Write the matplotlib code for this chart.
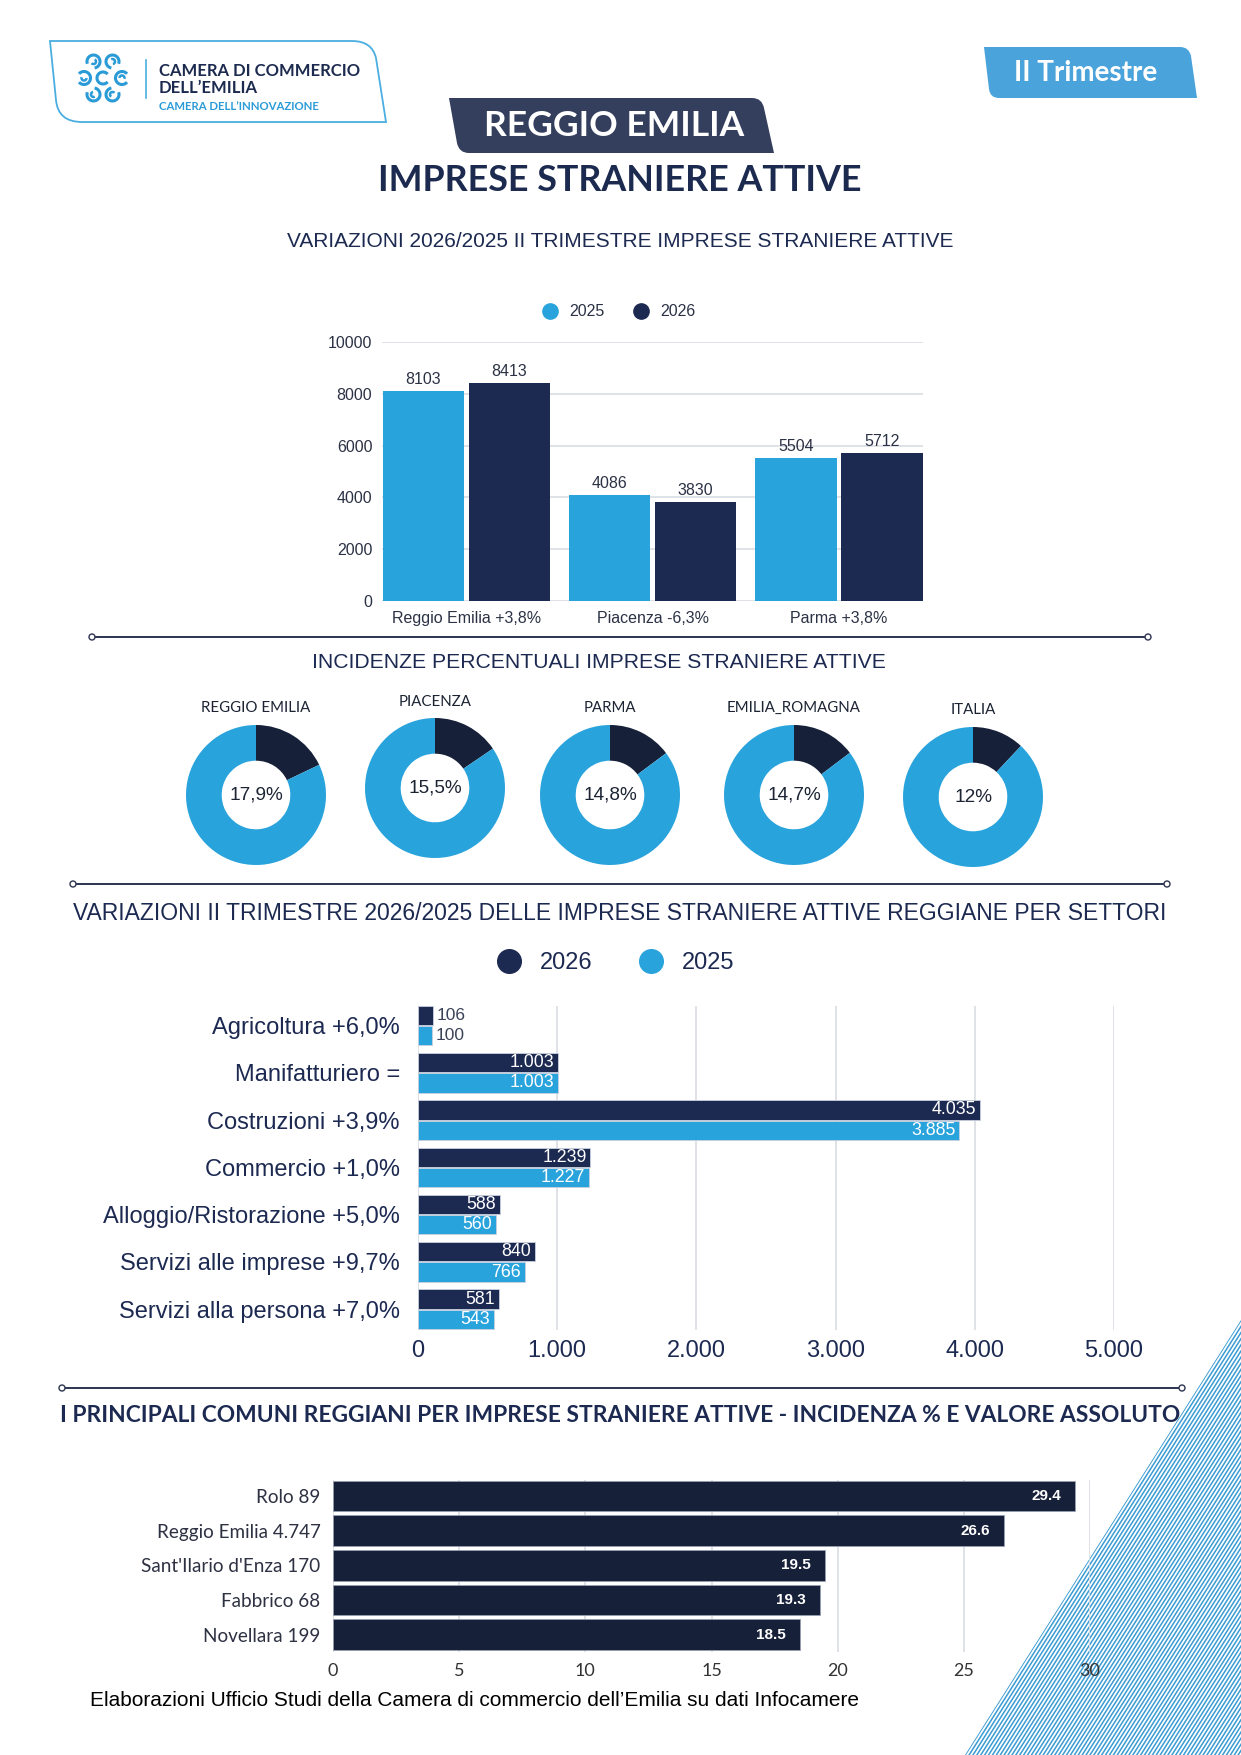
import numpy as np
import matplotlib
matplotlib.use("Agg")
import matplotlib.pyplot as plt
from matplotlib.patches import Polygon, Circle, Arc, PathPatch
from matplotlib.path import Path
from matplotlib.collections import LineCollection
from matplotlib.lines import Line2D

W, H = 1241, 1755
NAVY = "#1c2951"
DARK = "#172039"
BLUE = "#29a3dc"
TEXT = "#2b3245"
GRID = "#d9dde3"
SANS = "Liberation Sans"
LATO = "Lato"

# --- variazioni per provincia
prov_names = ["Reggio Emilia", "Piacenza", "Parma"]
prov_var = ["+3,8%", "-6,3%", "+3,8%"]
prov_2025 = [8103, 4086, 5504]
prov_2026 = [8413, 3830, 5712]

# --- incidenze percentuali
inc_names = ["REGGIO EMILIA", "PIACENZA", "PARMA", "EMILIA_ROMAGNA", "ITALIA"]
inc_values = [17.9, 15.5, 14.8, 14.7, 12.0]
inc_labels = ["17,9%", "15,5%", "14,8%", "14,7%", "12%"]

# --- settori
sectors = ["Agricoltura", "Manifatturiero", "Costruzioni", "Commercio",
           "Alloggio/Ristorazione", "Servizi alle imprese", "Servizi alla persona"]
sector_var = ["+6,0%", "=", "+3,9%", "+1,0%", "+5,0%", "+9,7%", "+7,0%"]
sect_2026 = [106, 1003, 4035, 1239, 588, 840, 581]
sect_2025 = [100, 1003, 3885, 1227, 560, 766, 543]

# --- comuni
comuni = ["Rolo", "Reggio Emilia", "Sant'Ilario d'Enza", "Fabbrico", "Novellara"]
comuni_abs = ["89", "4.747", "170", "68", "199"]
comuni_inc = [29.4, 26.6, 19.5, 19.3, 18.5]


def it_num(v):
    return f"{v:,}".replace(",", ".")


fig = plt.figure(figsize=(W / 100, H / 100), dpi=100, facecolor="white")


def px_axes(l, t, r, b, **kw):
    return fig.add_axes([l / W, 1 - b / H, (r - l) / W, (b - t) / H], **kw)


bg = fig.add_axes([0, 0, 1, 1], zorder=0)
bg.set_xlim(0, W)
bg.set_ylim(H, 0)
bg.axis("off")

# striped triangle bottom right
tri = Polygon([(965, 1755), (1241, 1320), (1241, 1755)], closed=True,
              facecolor="none", edgecolor="none")
bg.add_patch(tri)
d = np.array([276.0, -435.0]) / np.hypot(276, 435)
segs = [[(x0, 1760), (x0 + d[0] * 700, 1760 + d[1] * 700)] for x0 in np.arange(962, 1245, 3.9)]
lc = LineCollection(segs, colors="#3b9bd2", linewidths=1.1)
bg.add_collection(lc)
lc.set_clip_path(tri)

M, L, C, Z = Path.MOVETO, Path.LINETO, Path.CURVE3, Path.CLOSEPOLY

# logo
logo = Path([(50, 41), (352, 41), (372, 41), (376, 58), (386, 122), (82, 122),
             (58, 122), (56, 100), (50, 41)],
            [M, L, C, C, L, L, C, C, Z])
bg.add_patch(PathPatch(logo, facecolor="none", edgecolor="#4aaee0", lw=1.3))
lx, ly = 103, 78
for ang in [60, 120, 180, 240, 300, 0]:
    cx = lx + 19 * np.cos(np.radians(ang))
    cy = ly - 19 * np.sin(np.radians(ang))
    bg.add_patch(Arc((cx, cy), 13, 13, angle=ang, theta1=40, theta2=320, color="#2b9bd7", lw=2.2))
    bg.add_patch(Arc((cx, cy), 5, 5, angle=ang + 180, theta1=0, theta2=200, color="#2b9bd7", lw=1.8))
bg.add_patch(Arc((lx, ly), 12, 12, angle=0, theta1=40, theta2=320, color="#2b9bd7", lw=2.2))
bg.plot([146, 146], [60, 98], color="#4aaee0", lw=1.2)
bg.text(159, 71, "CAMERA DI COMMERCIO", fontfamily=LATO, fontweight="bold", fontsize=12,
        color="#1b2a4e", va="center", ha="left")
bg.text(159, 88, "DELL\u2019EMILIA", fontfamily=LATO, fontweight="bold", fontsize=12,
        color="#1b2a4e", va="center", ha="left")
bg.text(159, 106, "CAMERA DELL\u2019INNOVAZIONE", fontfamily=LATO, fontweight="bold", fontsize=8.2,
        color="#2b9bd7", va="center", ha="left")

# tab II Trimestre
tab = Path([(984, 47), (1180, 47), (1189, 47), (1191, 56), (1197, 98), (999, 98),
            (990, 98), (989, 89), (984, 47)],
           [M, L, C, C, L, L, C, C, Z])
bg.add_patch(PathPatch(tab, facecolor="#4aa3da", edgecolor="none"))
bg.text(1086, 73, "II Trimestre", fontfamily=LATO, fontweight="bold", fontsize=20,
        color="white", ha="center", va="center")

# REGGIO EMILIA box
box = Path([(449, 98), (752, 98), (762, 98), (764, 108), (774, 153), (469, 153),
            (459, 153), (457, 143), (449, 98)],
           [M, L, C, C, L, L, C, C, Z])
bg.add_patch(PathPatch(box, facecolor="#343f5e", edgecolor="none"))
bg.text(614, 126, "REGGIO EMILIA", fontfamily=LATO, fontweight="bold", fontsize=25.5,
        color="white", ha="center", va="center")
bg.text(620, 180, "IMPRESE STRANIERE ATTIVE", fontfamily=LATO, fontweight="bold", fontsize=25.8,
        color="#1b2a4e", ha="center", va="center")
bg.text(620, 241, "VARIAZIONI 2026/2025 II TRIMESTRE IMPRESE STRANIERE ATTIVE",
        fontfamily=SANS, fontsize=15, color=NAVY, ha="center", va="center")


def separator(y, x0, x1):
    bg.plot([x0, x1], [y, y], color="#2c3550", lw=1.4, zorder=2)
    for x in (x0, x1):
        bg.add_patch(Circle((x, y), 3, facecolor="white", edgecolor="#2c3550", lw=1, zorder=3))


separator(637, 92, 1148)
separator(884, 73, 1167)
separator(1388, 62, 1182)

# ---------------- chart 1
ax1 = px_axes(382, 342, 923, 601, zorder=2)
ax1.set_facecolor("none")
x = np.arange(len(prov_names))
b25 = ax1.bar(x - 0.231, prov_2025, 0.437, color=BLUE, zorder=3)
b26 = ax1.bar(x + 0.231, prov_2026, 0.437, color=NAVY, zorder=3)
for bars in (b25, b26):
    ax1.bar_label(bars, padding=3, fontsize=11.5, color=TEXT, fontfamily=SANS)
ax1.set_xlim(-0.454, 2.452)
ax1.set_ylim(0, 10000)
ax1.set_yticks(np.arange(0, 10001, 2000))
ax1.set_xticks(x)
ax1.set_xticklabels([f"{n} {v}" for n, v in zip(prov_names, prov_var)])
ax1.grid(axis="y", color=GRID, lw=1.2, zorder=0)
ax1.tick_params(length=0, labelsize=11.5, labelcolor=TEXT, pad=7)
for lab in ax1.get_xticklabels() + ax1.get_yticklabels():
    lab.set_fontfamily(SANS)
for s in ax1.spines.values():
    s.set_visible(False)
h1 = [Line2D([], [], ls="", marker="o", ms=11, color=BLUE, label="2025"),
      Line2D([], [], ls="", marker="o", ms=11, color=NAVY, label="2026")]
ax1.legend(handles=h1, loc="center", bbox_to_anchor=(0.43, 1.116), ncol=2, frameon=False,
           prop={"family": SANS, "size": 11.5}, labelcolor=TEXT, handletextpad=0.2,
           columnspacing=1.3)

# ---------------- donuts
bg.text(599, 662, "INCIDENZE PERCENTUALI IMPRESE STRANIERE ATTIVE", fontfamily=SANS,
        fontsize=15.2, color=NAVY, ha="center", va="center")
don_cx = [256, 435, 610, 794, 973]
don_cy = [795, 788, 795, 795, 797]
don_ly = [708, 702, 708, 708, 710]
for i, name in enumerate(inc_names):
    cx, cy = don_cx[i], don_cy[i]
    axd = px_axes(cx - 70, cy - 70, cx + 70, cy + 70, zorder=2)
    axd.pie([inc_values[i], 100 - inc_values[i]], colors=[DARK, BLUE], startangle=90,
            counterclock=False, wedgeprops=dict(width=0.51, linewidth=0))
    axd.set_xlim(-1, 1)
    axd.set_ylim(-1, 1)
    axd.text(0, 0, inc_labels[i], ha="center", va="center", fontsize=13.7,
             fontfamily=SANS, color="#1c2434")
    bg.text(cx, don_ly[i], name, fontfamily=LATO, fontsize=10.8, color="#1c2434",
            ha="center", va="center")

# ---------------- chart 2
bg.text(620, 913, "VARIAZIONI II TRIMESTRE 2026/2025 DELLE IMPRESE STRANIERE ATTIVE REGGIANE PER SETTORI",
        fontfamily=SANS, fontsize=16.5, color=NAVY, ha="center", va="center")
ax2 = px_axes(418, 1006, 1114, 1330, zorder=2)
ax2.set_facecolor("none")
y = np.arange(len(sectors))
r26 = ax2.barh(y - 0.215, sect_2026, 0.41, color=NAVY, edgecolor="#c9d1de", lw=0.6, zorder=3)
r25 = ax2.barh(y + 0.215, sect_2025, 0.41, color=BLUE, edgecolor="#c9d1de", lw=0.6, zorder=3)
for bars, vals in ((r26, sect_2026), (r25, sect_2025)):
    for rect, v in zip(bars, vals):
        yc = rect.get_y() + rect.get_height() / 2
        if v < 300:
            ax2.annotate(it_num(v), (v, yc), xytext=(3, 0), textcoords="offset points",
                         ha="left", va="center", fontsize=12.5, color="#3a4257", fontfamily=SANS)
        else:
            ax2.annotate(it_num(v), (v, yc), xytext=(-2.5, 0), textcoords="offset points",
                         ha="right", va="center", fontsize=12.8, color="white", fontfamily=SANS)
ax2.set_xlim(0, 5000)
ax2.set_ylim(6.44, -0.413)
ax2.set_xticks(np.arange(0, 5001, 1000))
ax2.set_xticklabels([it_num(v) for v in range(0, 5001, 1000)])
ax2.set_yticks(y)
ax2.set_yticklabels([f"{s} {v}" for s, v in zip(sectors, sector_var)])
ax2.grid(axis="x", color=GRID, lw=1.2, zorder=0)
ax2.tick_params(axis="x", length=0, labelsize=17, labelcolor=NAVY, pad=7)
ax2.tick_params(axis="y", length=0, labelsize=17, labelcolor=NAVY, pad=13)
for lab in ax2.get_xticklabels() + ax2.get_yticklabels():
    lab.set_fontfamily(SANS)
for s in ax2.spines.values():
    s.set_visible(False)
h2 = [Line2D([], [], ls="", marker="o", ms=17, color=NAVY, label="2026"),
      Line2D([], [], ls="", marker="o", ms=17, color=BLUE, label="2025")]
ax2.legend(handles=h2, loc="center", bbox_to_anchor=(0.276, 1.133), ncol=2, frameon=False,
           prop={"family": SANS, "size": 17}, labelcolor=NAVY, handletextpad=0.3,
           columnspacing=1.5)

# ---------------- chart 4
bg.text(620, 1416, "I PRINCIPALI COMUNI REGGIANI PER IMPRESE STRANIERE ATTIVE - INCIDENZA % E VALORE ASSOLUTO",
        fontfamily=LATO, fontweight="bold", fontsize=16.4, color=NAVY, ha="center", va="center")
ax4 = px_axes(333, 1480, 1090, 1652, zorder=2)
ax4.set_facecolor("none")
yc4 = np.arange(len(comuni))
r4 = ax4.barh(yc4, comuni_inc, 0.88, color=DARK, edgecolor="#9aa3b5", lw=0.5, zorder=3)
for rect, v in zip(r4, comuni_inc):
    ax4.annotate(f"{v:.1f}", (v, rect.get_y() + rect.get_height() / 2), xytext=(-10, 0),
                 textcoords="offset points", ha="right", va="center", fontsize=11,
                 fontweight="bold", color="white", fontfamily=SANS)
ax4.set_xlim(0, 30)
ax4.set_ylim(4.5, -0.46)
ax4.set_xticks(np.arange(0, 31, 5))
ax4.set_yticks(yc4)
ax4.set_yticklabels([f"{c} {n}" for c, n in zip(comuni, comuni_abs)])
ax4.grid(axis="x", color=GRID, lw=1.2, zorder=0)
ax4.tick_params(axis="x", length=0, labelsize=13, labelcolor="#333333", pad=8)
ax4.tick_params(axis="y", length=0, labelsize=13.6, labelcolor="#2d3142", pad=9)
for lab in ax4.get_xticklabels() + ax4.get_yticklabels():
    lab.set_fontfamily(LATO)
for s in ax4.spines.values():
    s.set_visible(False)

bg.text(90, 1700, "Elaborazioni Ufficio Studi della Camera di commercio dell\u2019Emilia su dati Infocamere",
        fontfamily=SANS, fontsize=15, color="black", ha="left", va="center")

fig.savefig("out.png", dpi=100, facecolor="white")
